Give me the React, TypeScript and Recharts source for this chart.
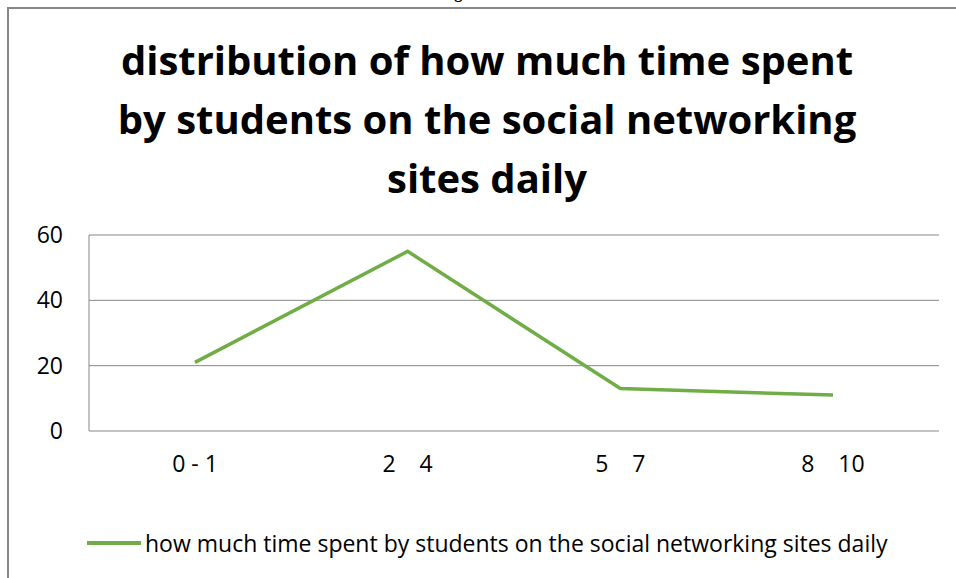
import React from "react";
import { CartesianGrid, Line, LineChart, XAxis, YAxis } from "recharts";

const categories = ["0 - 1", "2\u00a0\u00a0\u00a0\u00a04", "5\u00a0\u00a0\u00a0\u00a07", "8\u00a0\u00a0\u00a0\u00a010"];
const hours = [21, 55, 13, 11];
const yTicks = [0, 20, 40, 60];
const seriesName = "how much time spent by students on the social networking sites daily";
const titleLines = ["distribution of how much time spent", "by students on the social networking", "sites daily"];

const rows = categories.map((c, i) => ({ name: c, value: hours[i] }));

const GREEN = "#70AD47";
const GRID = "#878787";
const FONT = "'Open Sans', sans-serif";

export default function App() {
  return (
    <div style={{ position: "fixed", left: 0, top: 0, width: 956, height: 578, overflow: "hidden", background: "#fff", fontFamily: FONT }}>
      <div style={{ position: "absolute", left: 440, top: -17, fontFamily: "'Liberation Serif', serif", fontWeight: "bold", fontSize: 16, lineHeight: "20px" }}>Figure.</div>
      <div style={{ position: "absolute", left: 7, top: 7, width: 1000, height: 700, borderLeft: `2px solid ${GRID}`, borderTop: `2px solid ${GRID}` }} />
      <div style={{ position: "absolute", left: 0, top: 30, width: 974, textAlign: "center", fontWeight: "bold", fontSize: 40, lineHeight: "59px", color: "#000" }}>
        {titleLines.map((t, i) => <div key={i}>{t}</div>)}
      </div>
      <div style={{ position: "absolute", left: 0, top: 0 }}>
        <LineChart width={956} height={578} data={rows} margin={{ top: 235, right: 17, bottom: 117, left: 29 }}>
          <CartesianGrid vertical={false} stroke={GRID} strokeWidth={1} />
          <XAxis dataKey="name" axisLine={false} tickLine={false} tickSize={0} tickMargin={25} padding={{ left: 106, right: 106 }} tick={{ fill: "#000", fontSize: 23, fontFamily: FONT }} interval={0} height={30} />
          <YAxis width={60} domain={[0, 60]} ticks={yTicks} axisLine={{ stroke: GRID }} tickLine={false} tickSize={0} tickMargin={26} tick={{ fill: "#000", fontSize: 23, fontFamily: FONT }} />
          <Line dataKey="value" name={seriesName} type="linear" stroke={GREEN} strokeWidth={3.5} dot={false} isAnimationActive={false} />
        </LineChart>
      </div>
      <div style={{ position: "absolute", left: 87, top: 528, height: 30, display: "flex", alignItems: "center" }}>
        <div style={{ width: 54, height: 3.5, background: GREEN, marginRight: 4 }} />
        <span style={{ fontSize: 23, color: "#000", whiteSpace: "nowrap" }}>{seriesName}</span>
      </div>
    </div>
  );
}
